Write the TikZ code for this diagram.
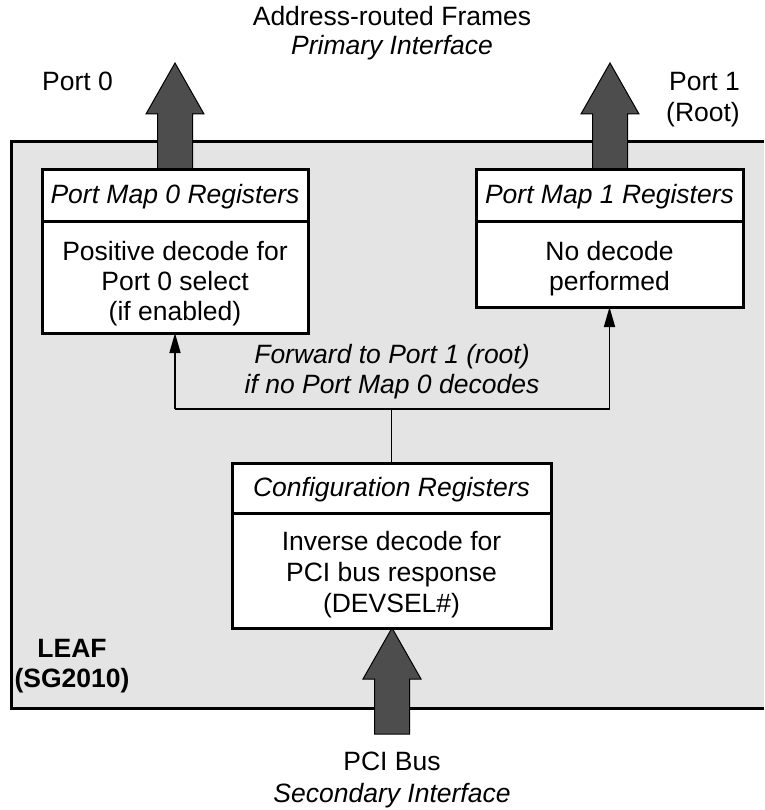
\documentclass[tikz,border=0pt]{standalone}
\usepackage{fontspec}
\setmainfont{Liberation Sans}
\usetikzlibrary{arrows.meta}
\definecolor{leafgray}{RGB}{228,228,228}
\definecolor{fatgray}{RGB}{77,77,77}
\newcommand\fatarrow[3]{% center x, tip y, bottom y
  \filldraw[fatarrowstyle] (#1-17.5,#3) -- (#1-17.5,#2+51) -- (#1-29,#2+51) -- (#1,#2)
    -- (#1+29,#2+51) -- (#1+17.5,#2+51) -- (#1+17.5,#3) -- cycle;}
\tikzset{
  regbox/.style={draw, line width=3pt, fill=white, inner sep=0pt, outer sep=0pt},
  txt/.style={font=\fontsize{26.5}{30}\selectfont, inner sep=0pt, anchor=base},
  itxt/.style={txt, font=\fontsize{26.5}{30}\selectfont\itshape},
  btxt/.style={txt, font=\fontsize{26.5}{30}\selectfont\bfseries},
  fatarrowstyle/.style={fill=fatgray, draw=black, line width=1pt},
  conn/.style={line width=1.7pt, -{Triangle[length=20pt,width=11pt]}},
  plainconn/.style={line width=1.7pt},
}
\begin{document}
\begin{tikzpicture}[x=1pt, y=-1pt]
\useasboundingbox (0,0) rectangle (764,810);
% LEAF enclosure
\fill[leafgray] (11,142) rectangle (764,708);
\draw[line width=3pt] (764,142) -- (11,142) -- (11,708) -- (764,708);
% fat arrows
\fatarrow{175}{63}{172}
\fatarrow{610}{63}{172}
\fatarrow{392}{628}{734}
% register boxes
\node[regbox, minimum width=266pt, minimum height=163pt] (pm0) at (175,251.5) {};
\node[regbox, minimum width=267pt, minimum height=137pt] (pm1) at (609.5,238.5) {};
\node[regbox, minimum width=319pt, minimum height=165pt] (cfg) at (391.5,545.5) {};
\draw[line width=3pt] ([yshift=-52pt]pm0.north west) -- ([yshift=-52pt]pm0.north east);
\draw[line width=3pt] ([yshift=-52pt]pm1.north west) -- ([yshift=-52pt]pm1.north east);
\draw[line width=3pt] ([yshift=-50pt]cfg.north west) -- ([yshift=-50pt]cfg.north east);
% connectors
\coordinate (fork) at (391.5,409);
\coordinate (forkL) at (175,409);
\coordinate (forkR) at (609.5,409);
\draw[plainconn] (cfg.north) -- (fork);
\draw[plainconn] (forkL) -- (forkR);
\draw[conn] (forkL) -- (pm0.south);
\draw[conn] (forkR) -- (pm1.south);
% texts
\node[txt] (t1) at (392,26) {Address-routed Frames};
\node[itxt] (t2) at (392,55) {Primary Interface};
\node[txt] (p0) at (77.5,91) {Port 0};
\node[txt, anchor=base east] (p1) at (740,91) {Port 1};
\node[txt, anchor=base east] (p1r) at (740,122) {(Root)};
\node[itxt] (pm0h) at (175,204) {Port Map 0 Registers};
\node[txt] (pm0a) at (175,260) {Positive decode for};
\node[txt] (pm0b) at (175,290) {Port 0 select};
\node[txt] (pm0c) at (175,320) {(if enabled)};
\node[itxt] (pm1h) at (609.5,204) {Port Map 1 Registers};
\node[txt] (pm1a) at (609.5,260) {No decode};
\node[txt] (pm1b) at (609.5,290) {performed};
\node[itxt] (fw1) at (392,363) {Forward to Port 1 (root)};
\node[itxt] (fw2) at (392,393) {if no Port Map 0 decodes};
\node[itxt] (cfgh) at (391.5,496) {Configuration Registers};
\node[txt] (cfga) at (391.5,550) {Inverse decode for};
\node[txt] (cfgb) at (391.5,581) {PCI bus response};
\node[txt] (cfgc) at (391.5,612) {(DEVSEL\#)};
\node[btxt] (leaf) at (72,657) {LEAF};
\node[btxt] (leafb) at (72,687) {(SG2010)};
\node[txt] (pci) at (392,770) {PCI Bus};
\node[itxt] (pcib) at (392,802) {Secondary Interface};
\end{tikzpicture}
\end{document}
